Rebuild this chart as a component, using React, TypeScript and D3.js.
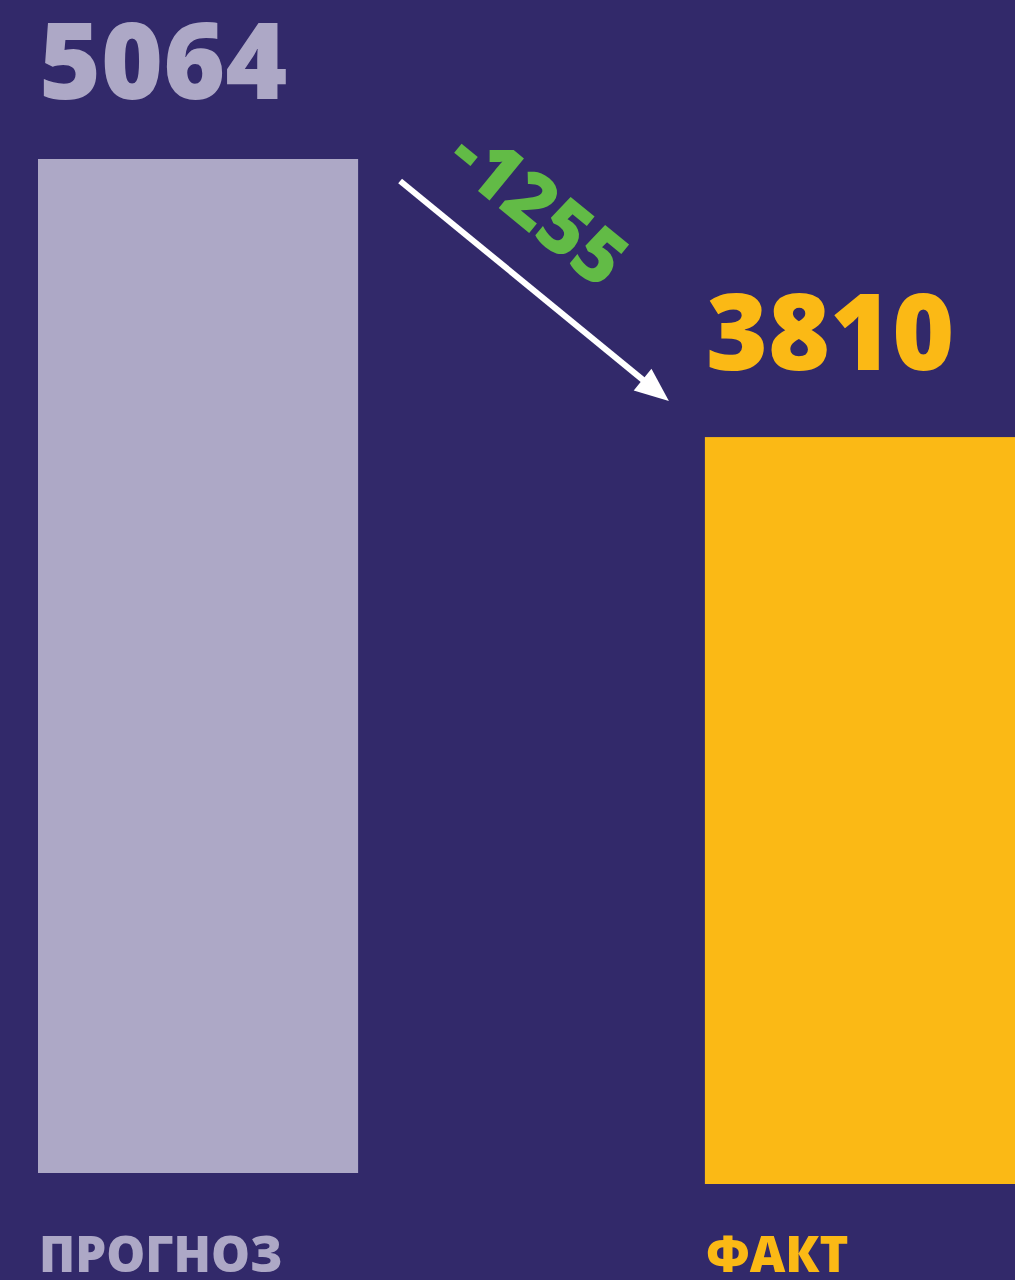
import React from "react";
import * as d3 from "d3";

const categories = ["ПРОГНОЗ", "ФАКТ"];
const values = [5064, 3810];
const deltaLabel = "-1255";

const W = 1015;
const H = 1280;
const BG = "#32296A";
const colors = ["#ADA8C6", "#FBB915"];
const GREEN = "#62BB46";
const FONT = "'Open Sans', 'Noto Sans', sans-serif";

export default function App() {
  const x = d3.scaleBand<string>().domain(categories).range([38, 1025]).paddingInner(0.52).paddingOuter(0);
  const y = d3.scaleLinear().domain([0, 5064]).range([1282, 159]);
  const bottoms = [1173, 1184];
  const labelGap = [60, 67];
  const bw = x.bandwidth();

  // arrow geometry derived from bars
  const x0 = (x(categories[0]) as number) + bw + 42;
  const y0 = y(values[0]) + 22;
  const x1 = (x(categories[1]) as number) - 36;
  const y1 = y(values[1]) - 36;
  const dx = x1 - x0, dy = y1 - y0;
  const len = Math.hypot(dx, dy);
  const ux = dx / len, uy = dy / len;
  const nx = -uy, ny = ux;
  const headLen = 34, headHalf = 14;
  const bx = x1 - headLen * ux, by = y1 - headLen * uy;
  const head = [
    [x1, y1],
    [bx + headHalf * nx, by + headHalf * ny],
    [bx - headHalf * nx, by - headHalf * ny],
  ];
  const angle = (Math.atan2(dy, dx) * 180) / Math.PI;
  const tcx = 522, tcy = 227;

  return (
    <svg width={W} height={H} style={{ position: "absolute", left: 0, top: 0, display: "block" }}>
      <rect x={0} y={0} width={W} height={H} fill={BG} />
      {categories.map((c, i) => (
        <g key={c}>
          <rect
            x={x(c)}
            y={y(values[i])}
            width={bw}
            height={bottoms[i] - y(values[i])}
            fill={colors[i]}
          />
          <text
            x={(x(c) as number) + 1}
            y={y(values[i]) - labelGap[i]}
            fill={colors[i]}
            fontFamily={FONT}
            fontWeight={800}
            fontSize={106}
          >
            {values[i]}
          </text>
          <text
            x={(x(c) as number) + 1}
            y={1272}
            fill={colors[i]}
            fontFamily={FONT}
            fontWeight={800}
            fontSize={49}
          >
            {c}
          </text>
        </g>
      ))}
      <line x1={x0} y1={y0} x2={bx + 2 * ux} y2={by + 2 * uy} stroke="#fff" strokeWidth={6} />
      <polygon points={head.map((p) => p.join(",")).join(" ")} fill="#fff" />
      <text
        transform={`translate(${tcx},${tcy}) rotate(${angle})`}
        textAnchor="middle"
        fill={GREEN}
        fontFamily={FONT}
        fontWeight={800}
        fontSize={76}
      >
        {deltaLabel}
      </text>
    </svg>
  );
}
